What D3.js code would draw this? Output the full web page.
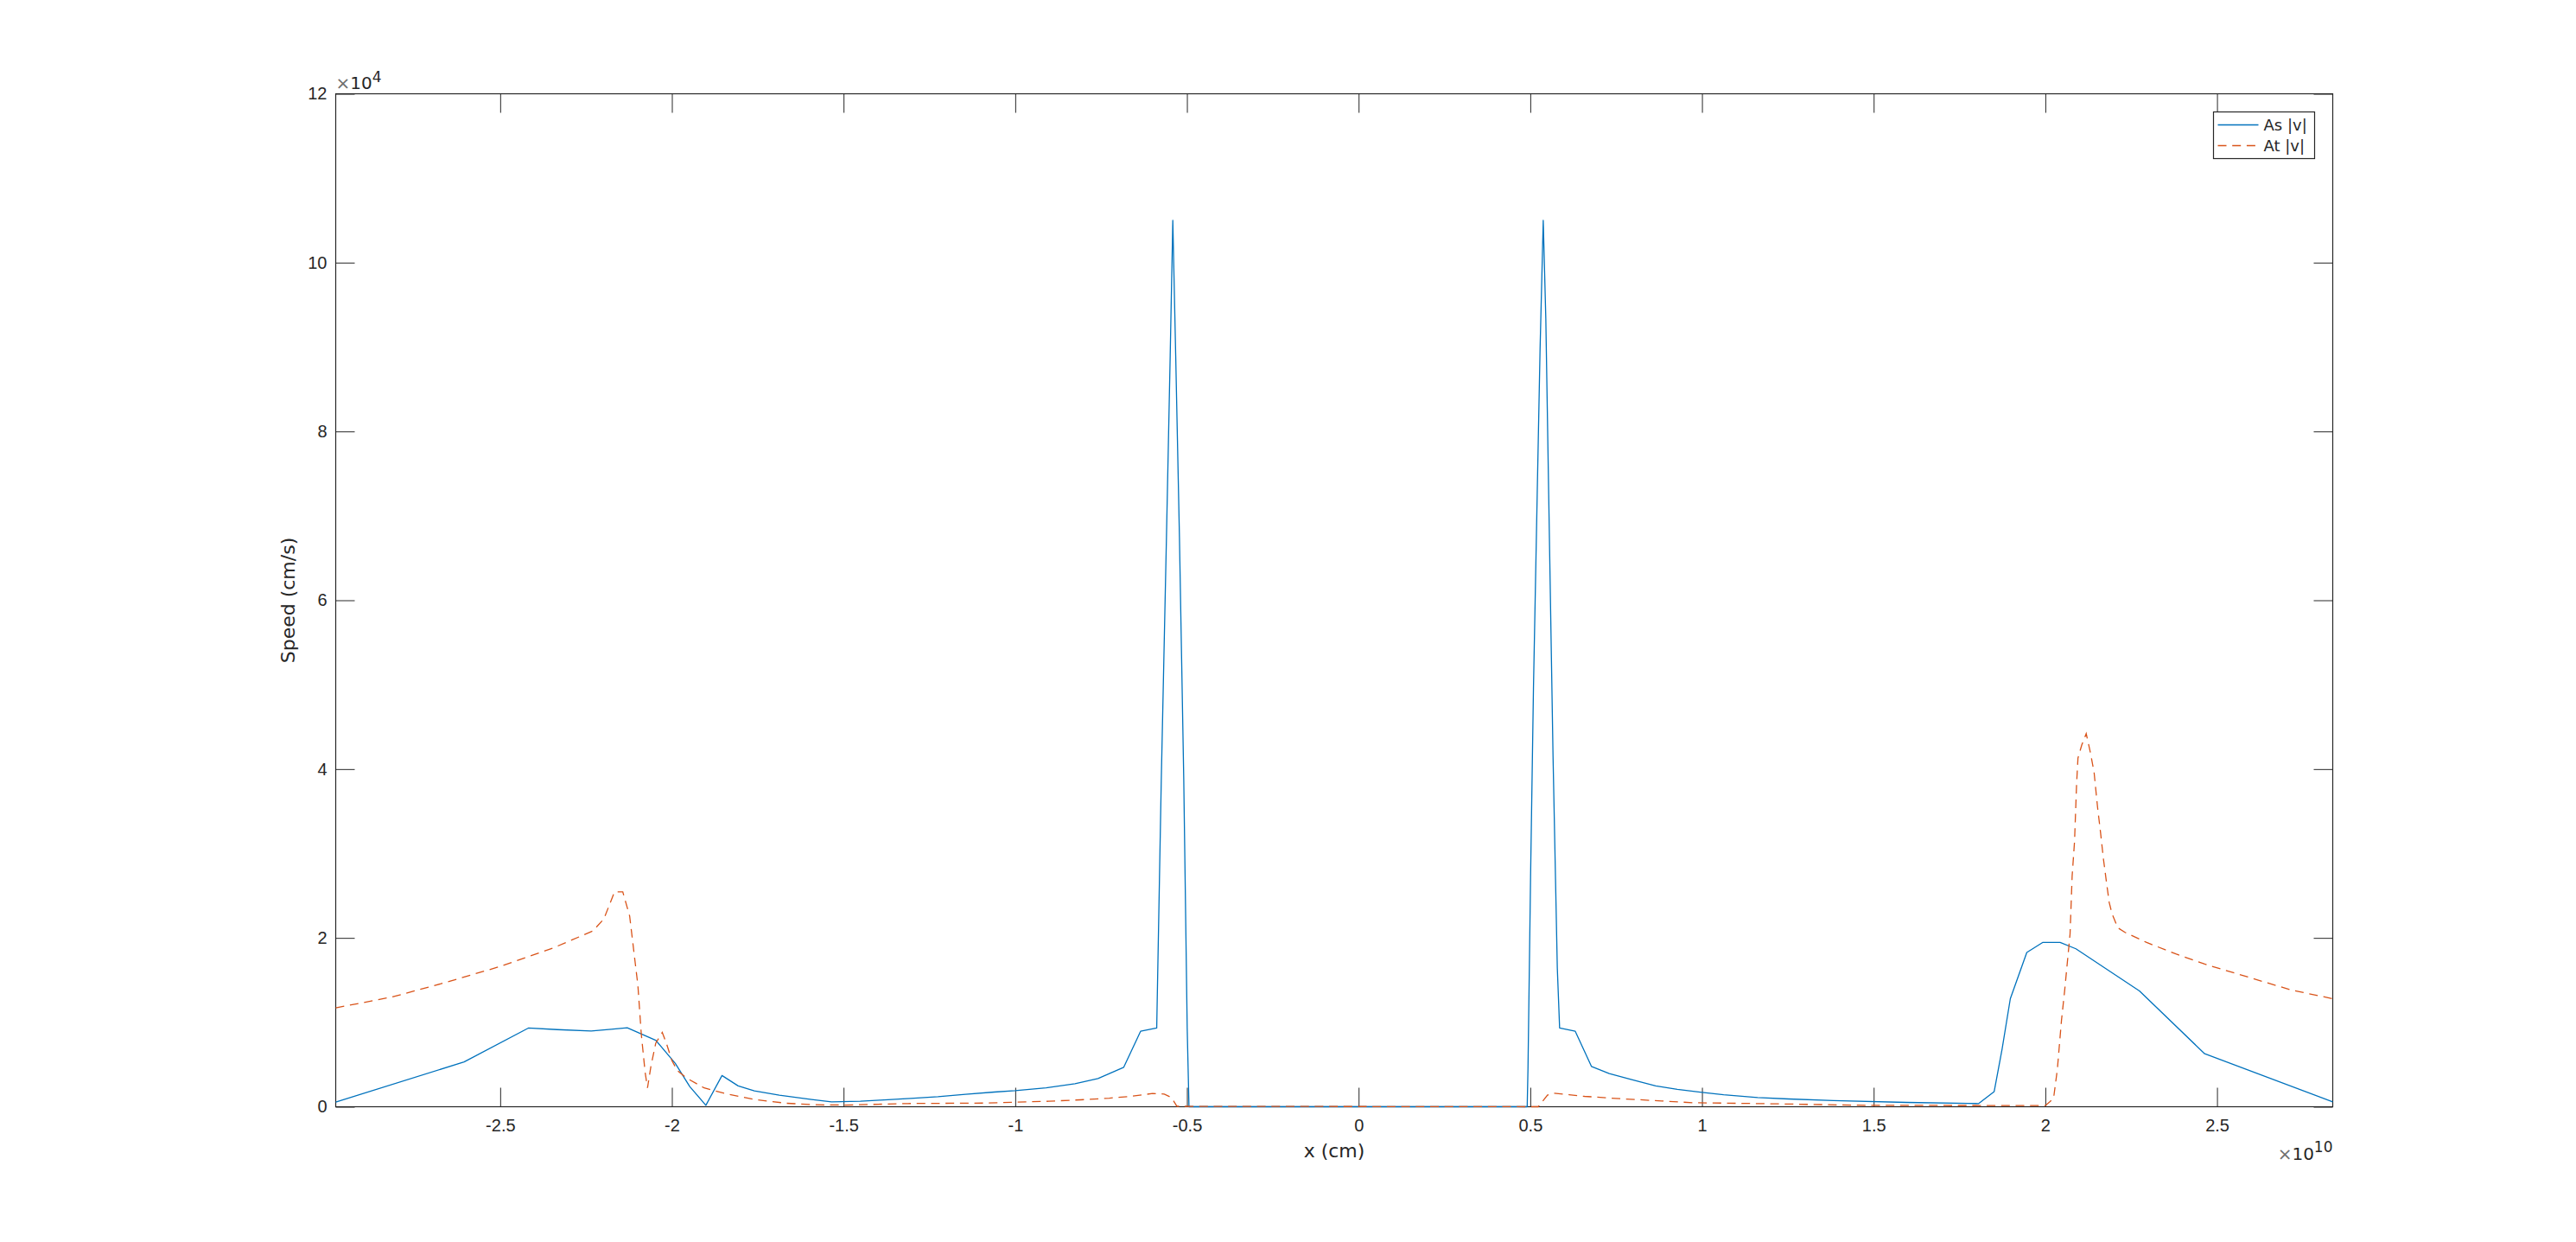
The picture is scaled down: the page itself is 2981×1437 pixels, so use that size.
<!DOCTYPE html>
<html>
<head>
<meta charset="utf-8">
<script src="https://d3js.org/d3.v7.min.js"></script>
<style>
  body { margin: 0; background: #fff; }
  svg { display: block; font-family: "DejaVu Sans", sans-serif; }
  .axis text { font-size: 20px; fill: #262626; }
  .axis line { stroke: #262626; }
</style>
</head>
<body>
<svg class="root"></svg>
<script>
// x in units of 1e10 cm, speeds in units of 1e4 cm/s
var asX = [-2.979, -2.605, -2.418, -2.334, -2.235, -2.177, -2.130, -2.047, -1.990, -1.948,
  -1.901, -1.854, -1.807, -1.760, -1.687, -1.593, -1.535, -1.451, -1.393, -1.305,
  -1.225, -1.145, -1.061, -1.000, -0.910, -0.826, -0.759, -0.684, -0.635, -0.588,
  -0.5747, -0.5596, -0.5487, -0.5411, -0.5327, -0.5218, -0.5092, -0.4992, -0.494,
  0.491, 0.4933, 0.5008, 0.5092, 0.5201, 0.5285, 0.5377, 0.5452, 0.5536, 0.5662,
  0.5787, 0.5854, 0.631, 0.678, 0.730, 0.793, 0.865, 0.928, 1.000, 1.063, 1.162,
  1.252, 1.383, 1.595, 1.775, 1.806, 1.851, 1.874, 1.898, 1.946, 1.992, 2.043,
  2.089, 2.274, 2.464, 2.837];
var asV = [0.055, 0.531, 0.932, 0.914, 0.897, 0.918, 0.935, 0.788, 0.514, 0.240,
  0.017, 0.370, 0.247, 0.188, 0.137, 0.086, 0.058, 0.065, 0.079, 0.099,
  0.119, 0.147, 0.174, 0.191, 0.225, 0.273, 0.335, 0.468, 0.894, 0.932,
  3.87, 6.75, 8.90, 10.50, 8.90, 6.75, 3.87, 0.93, 0,
  0, 0.453, 2.72, 4.95, 7.25, 8.98, 10.50, 9.34, 7.25, 4.16,
  1.64, 0.934, 0.894, 0.478, 0.393, 0.324, 0.246, 0.205, 0.171, 0.143, 0.109,
  0.092, 0.072, 0.051, 0.040, 0.038, 0.180, 0.683, 1.28, 1.827, 1.946, 1.946,
  1.871, 1.372, 0.628, 0.058];

var atX = [-2.979, -2.814, -2.658, -2.501, -2.344, -2.230, -2.198, -2.167, -2.143, -2.123,
  -2.109, -2.099, -2.089, -2.078, -2.071, -2.061, -2.047, -2.028, -2.016, -2.000,
  -1.984, -1.958, -1.906, -1.843, -1.760, -1.666, -1.582, -1.498, -1.313, -1.084,
  -0.902, -0.810, -0.726, -0.663, -0.600, -0.566, -0.545, -0.529,
  0.523, 0.550, 0.568, 0.613, 0.658, 0.748, 0.883, 0.973, 1.225, 1.477, 2.000,
  2.013, 2.024, 2.035, 2.047, 2.056, 2.064, 2.072, 2.078, 2.085, 2.091, 2.095,
  2.106, 2.119, 2.131, 2.142, 2.152, 2.161, 2.169, 2.178, 2.186, 2.194, 2.211,
  2.232, 2.295, 2.380, 2.464, 2.548, 2.632, 2.716, 2.837];
var atV = [1.171, 1.301, 1.473, 1.661, 1.884, 2.082, 2.226, 2.545, 2.545, 2.26,
  1.78, 1.44, 0.856, 0.411, 0.223, 0.479, 0.753, 0.880, 0.753, 0.548,
  0.428, 0.342, 0.223, 0.154, 0.086, 0.041, 0.024, 0.020, 0.038, 0.044,
  0.065, 0.082, 0.102, 0.123, 0.157, 0.150, 0.109, 0.005,
  0, 0.137, 0.160, 0.143, 0.123, 0.099, 0.068, 0.048, 0.034, 0.017, 0.014,
  0.058, 0.10, 0.444, 1.024, 1.366, 1.707, 2.048, 2.731, 3.141, 3.824, 4.13,
  4.285, 4.42, 4.2, 3.96, 3.55, 3.24, 2.94, 2.66, 2.42, 2.29, 2.12,
  2.066, 1.946, 1.81, 1.69, 1.588, 1.485, 1.383, 1.28];

var xTicks = [-2.5, -2, -1.5, -1, -0.5, 0, 0.5, 1, 1.5, 2, 2.5];
var yTicks = [0, 2, 4, 6, 8, 10, 12];
var seriesNames = ["As |v|", "At |v|"];
var colors = ["#0072BD", "#D95319"];

var W = 2981, H = 1437;
var margin = {top: 108.5, right: 281.5, bottom: 156.5, left: 388.5},
    width = W - margin.left - margin.right,
    height = H - margin.top - margin.bottom;

var x = d3.scaleLinear().domain([-2.979, 2.837]).range([0, width]);
var y = d3.scaleLinear().domain([0, 12]).range([height, 0]);

var svg = d3.select(".root")
    .attr("width", W)
    .attr("height", H)
  .append("g")
    .attr("transform", "translate(" + margin.left + "," + margin.top + ")");

var fmt = function(d) { return String(d); };
var tl = 22;

svg.append("g").attr("class", "axis")
    .attr("transform", "translate(0," + height + ")")
    .call(d3.axisBottom(x).tickValues(xTicks).tickFormat(fmt).tickSizeInner(-tl).tickSizeOuter(0).tickPadding(14));
svg.append("g").attr("class", "axis")
    .call(d3.axisTop(x).tickValues(xTicks).tickFormat("").tickSizeInner(-tl).tickSizeOuter(0));
svg.append("g").attr("class", "axis")
    .call(d3.axisLeft(y).tickValues(yTicks).tickFormat(fmt).tickSizeInner(-tl).tickSizeOuter(0).tickPadding(10));
svg.append("g").attr("class", "axis")
    .attr("transform", "translate(" + width + ",0)")
    .call(d3.axisRight(y).tickValues(yTicks).tickFormat("").tickSizeInner(-tl).tickSizeOuter(0));
svg.selectAll(".axis .domain").remove();

svg.append("rect")
    .attr("width", width)
    .attr("height", height)
    .attr("fill", "none")
    .attr("stroke", "#262626")
    .attr("stroke-width", 1.2);

var line = d3.line()
    .x(function(d) { return x(d[0]); })
    .y(function(d) { return y(d[1]); });

svg.append("path")
    .datum(d3.zip(asX, asV))
    .attr("d", line)
    .attr("fill", "none")
    .attr("stroke", colors[0])
    .attr("stroke-width", 1.3)
    .attr("stroke-linejoin", "round");

svg.append("path")
    .datum(d3.zip(atX, atV))
    .attr("d", line)
    .attr("fill", "none")
    .attr("stroke", colors[1])
    .attr("stroke-width", 1.3)
    .attr("stroke-dasharray", "10,6.7");

// axis labels
svg.append("text")
    .attr("text-anchor", "middle")
    .attr("x", width / 2)
    .attr("y", height + 58)
    .attr("font-size", 22)
    .attr("fill", "#262626")
    .text("x (cm)");

svg.append("text")
    .attr("text-anchor", "middle")
    .attr("dominant-baseline", "central")
    .attr("transform", "translate(" + (-55) + "," + (height / 2) + ")rotate(-90)")
    .attr("font-size", 22)
    .attr("fill", "#262626")
    .text("Speed (cm/s)");

// exponent labels
var ey = svg.append("text")
    .attr("x", 0)
    .attr("y", -6)
    .attr("font-size", 20)
    .attr("fill", "#262626");
ey.append("tspan").attr("fill", "#6e6e6e").text("×");
ey.append("tspan").text("10");
ey.append("tspan").attr("dy", -8).attr("font-size", 17).text("4");

var ex = svg.append("text")
    .attr("x", width)
    .attr("y", height + 61)
    .attr("text-anchor", "end")
    .attr("font-size", 20)
    .attr("fill", "#262626");
ex.append("tspan").attr("fill", "#6e6e6e").text("×");
ex.append("tspan").text("10");
ex.append("tspan").attr("dy", -9).attr("font-size", 17).text("10");

// legend
var lg = svg.append("g")
    .attr("transform", "translate(" + (2561.5 - margin.left) + "," + (129.5 - margin.top) + ")");
lg.append("rect")
    .attr("width", 117)
    .attr("height", 54)
    .attr("fill", "#fff")
    .attr("stroke", "#262626")
    .attr("stroke-width", 1.2);
seriesNames.forEach(function(name, i) {
  var yy = 15 + i * 24;
  lg.append("line")
      .attr("x1", 5).attr("x2", 52)
      .attr("y1", yy).attr("y2", yy)
      .attr("stroke", colors[i])
      .attr("stroke-width", 1.3)
      .attr("stroke-dasharray", i === 1 ? "10,6.7" : null);
  lg.append("text")
      .attr("x", 58)
      .attr("y", yy)
      .attr("dominant-baseline", "central")
      .attr("font-size", 18)
      .attr("fill", "#262626")
      .text(name);
});
</script>
</body>
</html>
